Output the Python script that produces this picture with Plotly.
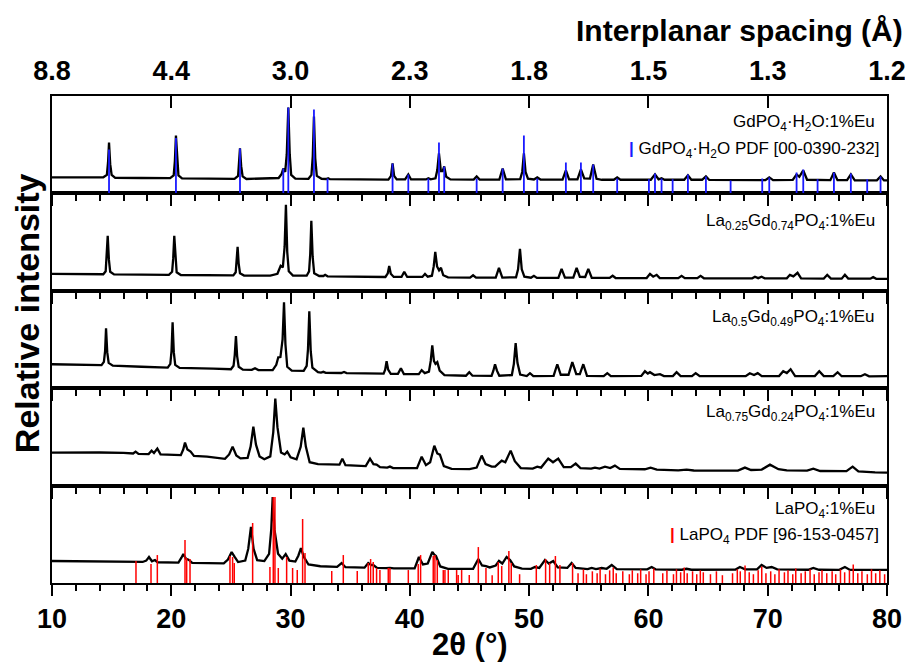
import plotly.graph_objects as go

# ---------------- data ----------------
two_theta_ticks = [10, 20, 30, 40, 50, 60, 70, 80]
d_spacing_labels = ["8.8", "4.4", "3.0", "2.3", "1.8", "1.5", "1.3", "1.2"]

# Panel 1: GdPO4·H2O:1%Eu
p1_x = [10.0, 12.0, 14.3, 14.6, 14.7, 14.78, 14.88, 15.0, 15.3, 17.5, 19.9, 20.2, 20.3, 20.39, 20.49, 20.6, 20.9, 23.5, 25.3, 25.6, 25.68, 25.76, 25.86, 25.98, 26.3, 28.0, 29.0, 29.25, 29.39, 29.55, 29.68, 29.81, 29.93, 30.05, 30.4, 31.5, 31.75, 31.86, 31.96, 32.07, 32.2, 32.6, 33.0, 33.15, 33.3, 38.2, 38.42, 38.55, 38.68, 38.9, 39.6, 39.87, 40.1, 41.35, 41.55, 41.75, 42.15, 42.3, 42.44, 42.6, 42.75, 42.88, 43.05, 43.4, 45.35, 45.6, 45.85, 47.5, 47.78, 48.05, 49.25, 49.42, 49.56, 49.7, 49.9, 50.4, 50.68, 50.95, 52.8, 53.08, 53.35, 54.05, 54.34, 54.62, 55.1, 55.37, 55.65, 56.1, 57.1, 57.38, 57.65, 60.2, 60.55, 60.85, 61.1, 61.35, 63.0, 63.31, 63.6, 64.5, 64.82, 65.1, 69.8, 70.13, 70.45, 72.1, 72.42, 72.65, 72.98, 73.3, 75.25, 75.55, 75.85, 76.65, 76.97, 77.3, 79.15, 79.46, 79.75, 80.0]
p1_y = [16.4, 16.8, 16.6, 19, 32, 52.3, 30, 19, 16.0, 15.8, 15.6, 18.5, 33, 59.5, 32, 18.5, 15.5, 15.0, 15.0, 18, 30, 46.2, 28, 17.5, 14.8, 15.0, 15.8, 20, 25.6, 22, 40, 88.2, 40, 19, 15.2, 15.0, 19, 38, 79, 36, 18, 15.0, 14.8, 15.6, 14.6, 14.2, 18, 30.8, 18, 14.3, 14.3, 19.5, 14.3, 14.3, 15.6, 14.4, 15.5, 24, 41, 23, 23, 27.7, 17, 14.3, 14.2, 17.4, 14.2, 14.2, 25.6, 14.4, 14.6, 22, 41, 22, 15.2, 14.3, 16.4, 14.2, 14.2, 23.6, 14.4, 14.5, 24.6, 15.5, 15.2, 29.7, 15, 14.0, 14, 16.4, 14, 14, 19.5, 14.5, 15.5, 14, 14, 18.5, 14, 14, 17.4, 13.8, 13.6, 16.4, 13.6, 13.8, 19.5, 17, 23.6, 14, 13.6, 21.5, 13.6, 13.6, 19.5, 13.4, 13.4, 17.4, 13.3, 13.3]

# Panel 2: La0.25Gd0.74PO4:1%Eu
p2_x = [10, 12, 14.3, 14.5, 14.58, 14.67, 14.77, 14.88, 15.2, 17.5, 19.8, 20.07, 20.16, 20.25, 20.35, 20.45, 20.8, 23.5, 25.2, 25.4, 25.48, 25.56, 25.65, 25.76, 26.1, 28.3, 28.9, 29.17, 29.35, 29.5, 29.61, 29.72, 29.85, 30.2, 31.35, 31.55, 31.65, 31.74, 31.85, 31.98, 32.4, 32.75, 32.9, 33.1, 37.95, 38.15, 38.27, 38.4, 38.65, 39.3, 39.53, 39.78, 41.05, 41.27, 41.5, 41.85, 42.0, 42.13, 42.28, 42.45, 42.61, 42.8, 43.2, 45.05, 45.3, 45.55, 47.2, 47.47, 47.75, 48.9, 49.07, 49.23, 49.38, 49.6, 50.15, 50.4, 50.65, 52.45, 52.72, 53.0, 53.7, 53.98, 54.25, 54.7, 54.96, 55.25, 56.75, 57.0, 57.25, 59.85, 60.13, 60.4, 60.69, 60.95, 62.5, 62.78, 63.05, 64.1, 64.37, 64.65, 68.7, 68.93, 69.2, 69.49, 69.75, 71.6, 71.86, 72.15, 72.5, 72.8, 74.7, 74.99, 75.3, 76.2, 76.47, 76.75, 78.6, 78.84, 79.1, 80]
p2_y = [17.4, 17.2, 17.0, 20, 33, 56.4, 32, 19.5, 16.8, 16.5, 16.4, 19.5, 33, 56.4, 32, 19, 16.2, 15.9, 15.8, 19, 29, 45.1, 28, 18, 15.6, 15.6, 17.5, 25.6, 24, 45, 88.2, 40, 20, 15.6, 15.5, 20, 38, 71.8, 35, 18, 15.2, 15.2, 16.4, 14.9, 14.2, 18, 25.6, 17.5, 14.2, 14.2, 19.5, 14.2, 14.2, 17.4, 14.5, 15.5, 25, 40, 25, 21, 23.6, 16, 13.8, 13.5, 15.9, 13.5, 13.5, 23.6, 13.6, 13.8, 22, 43.1, 22, 14.5, 13.4, 15.4, 13.3, 13.3, 22.6, 13.6, 13.6, 23.6, 14.4, 14.2, 22.6, 13.3, 13.2, 15.4, 13.1, 13.1, 17.4, 14.5, 16.4, 13.1, 13, 15.4, 13, 13, 15.4, 12.9, 12.8, 14.4, 13, 14.4, 12.8, 12.8, 16.4, 14.8, 18.5, 12.8, 12.6, 16.4, 12.6, 12.5, 16.4, 12.5, 12.4, 14.0, 12.3, 12.3]

# Panel 3: La0.5Gd0.49PO4:1%Eu
p3_x = [10, 12, 14.15, 14.35, 14.45, 14.53, 14.63, 14.75, 15.1, 17.5, 19.7, 19.92, 20.02, 20.11, 20.21, 20.33, 20.7, 23.5, 25.0, 25.22, 25.32, 25.42, 25.52, 25.65, 26.0, 26.75, 27.02, 27.3, 28.5, 28.8, 28.97, 29.15, 29.33, 29.45, 29.57, 29.72, 30.1, 31.1, 31.35, 31.46, 31.57, 31.69, 31.83, 32.3, 32.55, 32.75, 32.95, 34.25, 34.48, 34.7, 36.65, 36.88, 37.1, 37.8, 37.93, 38.05, 38.18, 38.4, 39.0, 39.25, 39.5, 40.75, 40.99, 41.25, 41.6, 41.75, 41.88, 42.02, 42.15, 42.3, 42.5, 42.9, 44.7, 44.98, 45.25, 46.85, 47.0, 47.14, 47.3, 47.5, 48.55, 48.72, 48.87, 49.02, 49.25, 49.8, 50.07, 50.35, 52.05, 52.36, 52.65, 53.3, 53.62, 53.95, 54.25, 54.54, 54.85, 56.25, 56.55, 56.85, 59.4, 59.71, 59.95, 60.13, 60.5, 60.97, 61.3, 62.05, 62.36, 62.7, 63.65, 63.96, 64.3, 68.15, 68.5, 68.85, 69.16, 69.5, 70.95, 71.3, 71.6, 71.92, 72.3, 73.95, 74.32, 74.7, 75.5, 75.86, 76.2, 77.8, 78.15, 78.5, 80]
p3_y = [24.6, 24.2, 23.6, 27, 38, 61.6, 37, 26, 23.2, 22, 21.2, 25, 38, 67.7, 37, 24, 20.8, 20, 19.5, 23, 34, 53.4, 33, 22, 19, 18.8, 20.5, 18.6, 18.6, 24, 31.8, 32, 50, 88.2, 45, 22, 18, 17.8, 23, 40, 79, 38, 21, 16.5, 16.0, 16.8, 15.8, 15.6, 16.6, 15.5, 15.2, 15.6, 15, 15, 19, 27.7, 19, 14.8, 14.8, 20.5, 14.6, 14.5, 18.5, 15.5, 17, 28, 44.1, 28, 25, 26.7, 18, 13.5, 12.8, 16.4, 12.8, 12.6, 18, 24.6, 18, 12.8, 13.5, 25, 46.2, 26, 14, 12.5, 15.4, 12.4, 12.6, 24.6, 13.8, 13.8, 26.7, 14.5, 14.5, 24.6, 12.6, 12.4, 15.4, 12.4, 12.6, 17.4, 15, 16.4, 13.5, 14.4, 12.4, 12.5, 16.4, 12.4, 12.4, 15.4, 12.3, 12.3, 15.4, 13.5, 15.4, 12.3, 12.4, 17.4, 15.5, 19.5, 12.5, 12.4, 17.4, 12.4, 12.4, 16.4, 12.3, 12.3, 14.4, 12.2, 12.3]

# Panel 4: La0.75Gd0.24PO4:1%Eu
p4_x = [10, 12, 14, 16.0, 16.8, 17.01, 17.25, 18.1, 18.35, 18.55, 18.83, 19.1, 19.6, 20.8, 21.0, 21.15, 21.35, 21.62, 21.9, 23.0, 24.5, 24.85, 25.14, 25.45, 25.8, 26.4, 26.65, 26.88, 27.1, 27.4, 27.8, 28.3, 28.55, 28.72, 28.9, 29.2, 29.5, 29.72, 30.0, 30.5, 30.85, 31.07, 31.28, 31.6, 32.3, 33.5, 34.1, 34.34, 34.6, 36.3, 36.66, 36.95, 37.21, 37.5, 38.1, 38.33, 38.6, 40.6, 40.99, 41.35, 41.7, 42.05, 42.3, 42.52, 42.85, 43.5, 45.0, 45.6, 46.02, 46.35, 46.86, 47.15, 47.7, 48.0, 48.45, 48.8, 49.3, 50.3, 50.68, 51.0, 51.6, 52.0, 52.44, 52.9, 53.5, 53.9, 54.3, 55.2, 55.52, 55.9, 56.36, 56.8, 57.19, 57.6, 59.7, 60.18, 60.7, 62.5, 63.2, 63.8, 67.5, 68.09, 68.6, 69.5, 70.19, 70.9, 71.6, 73.3, 73.82, 74.4, 76.6, 77.12, 77.6, 79, 80]
p4_y = [33.9, 34.2, 34.0, 33.6, 33.0, 34.9, 32.6, 32.4, 35.9, 33.5, 38, 32, 31.8, 31.3, 37, 44.1, 37, 34.9, 30.5, 29.7, 27.5, 32, 40, 31, 28, 28.5, 40, 60.5, 42, 30, 27, 30, 55, 89.3, 60, 34, 32, 34.9, 29, 27, 40, 59.5, 40, 24, 22, 21.3, 21.5, 27.7, 21.0, 20, 27.7, 22, 21.5, 19, 18.5, 19.5, 18, 18, 29.7, 21, 24, 41, 33, 31.8, 20, 17.2, 17, 18.5, 30.8, 22, 19.5, 19.5, 25.6, 24, 35.9, 25, 18, 17.5, 19.5, 18.5, 27.7, 24, 27.7, 19, 19, 22.6, 18, 17.5, 18.5, 17.5, 19.5, 18, 20.5, 17.2, 16.8, 18.5, 16.5, 15.6, 16.4, 15.5, 15.4, 18.5, 16.0, 16.5, 21.5, 16.8, 15.6, 15.4, 17.4, 15.0, 14.8, 19.5, 14.6, 13.6, 13.3]

# Panel 5: LaPO4:1%Eu
p5_x = [10, 13, 16, 17.6, 17.9, 18.13, 18.38, 18.63, 18.85, 20.6, 20.85, 21.01, 21.22, 21.48, 21.75, 24.4, 24.75, 25.06, 25.3, 25.6, 26.2, 26.45, 26.68, 26.9, 27.2, 27.8, 28.2, 28.38, 28.5, 28.65, 28.95, 29.3, 29.59, 29.9, 30.4, 30.65, 30.87, 31.1, 31.5, 32.5, 33.9, 34.28, 34.6, 36.2, 36.51, 36.75, 36.93, 37.25, 38.0, 38.33, 38.65, 40.4, 40.76, 41.1, 41.5, 41.88, 42.05, 42.19, 42.55, 43.2, 45.3, 45.74, 46.05, 46.38, 46.7, 47.2, 47.47, 47.75, 48.11, 48.4, 48.75, 49.4, 50.15, 50.48, 50.85, 51.33, 51.65, 52.02, 52.4, 53.2, 53.56, 53.9, 54.9, 55.24, 55.6, 56.08, 56.5, 56.92, 57.35, 59.9, 60.27, 60.6, 62.8, 63.2, 63.6, 67.3, 67.67, 68.1, 69.1, 69.49, 69.9, 70.33, 70.8, 73.4, 73.82, 74.3, 76.0, 76.47, 76.9, 80]
p5_y = [22.6, 22.4, 22.0, 21.6, 23, 26.7, 22.3, 23.6, 21.3, 21.0, 26, 29.7, 25, 23.6, 20.6, 20.2, 24, 31.8, 27, 21.5, 23, 35, 57.5, 35, 23.5, 22.5, 30, 55, 88.2, 55, 30, 25, 29.7, 23, 22, 28, 35.9, 27, 19, 17.2, 16.5, 20.5, 16.2, 15.8, 20.5, 18.5, 18.5, 15.6, 15.2, 15.6, 15, 15, 26.7, 19, 20, 31.8, 29, 27.7, 17, 14.6, 14.6, 24.6, 18, 17.4, 16, 18, 22.6, 20, 26.7, 23.6, 17, 14.8, 14.6, 16.4, 15.5, 23.6, 20, 22.6, 16, 15.5, 20.5, 15.4, 14.2, 15.4, 14.2, 15.4, 14.6, 18.5, 14.2, 14, 16.4, 14, 13.6, 14.6, 13.6, 13.8, 16.4, 14, 14, 18.5, 15.5, 16.4, 14, 13.6, 15.4, 13.6, 13.5, 16.4, 13.4, 13.4]

# Reference pattern GdPO4·H2O PDF [00-0390-232]
gd_ref_pos = [14.78, 20.39, 25.76, 29.39, 29.81, 31.96, 33.1, 38.55, 39.87, 41.55, 42.44, 42.88, 45.6, 47.78, 49.56, 50.68, 53.08, 54.34, 55.37, 57.38, 60.04, 60.55, 61.1, 62.03, 63.31, 64.82, 66.89, 69.54, 70.13, 72.42, 72.98, 74.18, 75.55, 76.97, 78.34, 79.46]
gd_ref_int = [45, 57, 46, 25.6, 88.2, 86.2, 15.4, 30.8, 19.5, 15.4, 52.3, 27.7, 15.4, 25.6, 59.5, 15.4, 31.8, 31.8, 29.7, 15.4, 14.4, 20.5, 15.4, 14.4, 19.5, 17.4, 13.3, 15.4, 16.4, 21.5, 24.6, 14.4, 21.5, 20.5, 14.4, 17.4]

# Reference pattern LaPO4 PDF [96-153-0457]
la_ref_pos = [17.04, 18.30, 18.83, 21.15, 21.29, 21.57, 24.92, 25.14, 25.28, 26.82, 28.27, 28.55, 28.69, 28.97, 29.67, 30.17, 30.56, 31.01, 31.21, 33.45, 34.42, 35.59, 36.51, 36.71, 36.93, 37.21, 37.49, 38.19, 38.33, 39.87, 40.70, 40.90, 41.96, 42.10, 42.30, 42.80, 42.94, 43.22, 43.92, 44.05, 44.34, 44.98, 45.74, 46.38, 46.90, 47.41, 47.70, 48.30, 48.50, 49.20, 50.60, 51.38, 51.72, 52.20, 52.58, 53.64, 54.10, 54.55, 54.80, 55.30, 55.70, 55.95, 56.40, 56.75, 57.05, 57.30, 57.85, 58.40, 58.65, 59.10, 59.35, 59.80, 60.05, 60.45, 61.20, 61.55, 62.10, 62.35, 62.70, 63.00, 63.25, 63.70, 64.05, 64.35, 64.60, 65.20, 65.70, 66.20, 67.05, 67.45, 67.70, 68.10, 68.45, 68.80, 69.20, 69.50, 69.85, 70.25, 70.60, 70.95, 71.40, 71.70, 72.10, 72.35, 72.80, 73.15, 73.55, 73.90, 74.30, 74.55, 74.95, 75.40, 75.70, 76.10, 76.45, 76.85, 77.17, 77.55, 77.90, 78.35, 78.70, 79.05, 79.40, 79.80]
la_ref_int = [22.6, 19.5, 28.7, 44.1, 25.6, 24.6, 27.7, 26.7, 20.5, 61.6, 16.4, 88.2, 88.2, 15.4, 26.7, 15.4, 13.3, 65.7, 30.8, 12.3, 28.7, 12.3, 20.5, 24.6, 21.5, 15.4, 13.3, 15.4, 15.4, 13.3, 19.5, 28.7, 27.7, 28.7, 23.6, 13.3, 13.3, 13.3, 13.3, 8.2, 13.3, 8.2, 36.9, 15.4, 8.0, 21.5, 17.4, 32.8, 20.5, 9.0, 18.5, 24.6, 20.5, 27.7, 18.5, 20.5, 10, 14, 9, 12, 10, 15, 9, 13, 16, 10, 12, 9, 13, 10, 14, 9, 12, 15, 10, 13, 9, 14, 11, 16, 10, 12, 9, 13, 11, 9, 12, 8, 10, 14, 12, 18, 11, 9, 13, 17, 10, 12, 9, 14, 11, 13, 9, 15, 10, 12, 14, 9, 11, 13, 10, 12, 9, 14, 11, 13, 19, 10, 12, 9, 14, 10, 13, 9]

panel_labels = [
    "LaPO<sub>4</sub>:1%Eu",
    "La<sub>0.75</sub>Gd<sub>0.24</sub>PO<sub>4</sub>:1%Eu",
    "La<sub>0.5</sub>Gd<sub>0.49</sub>PO<sub>4</sub>:1%Eu",
    "La<sub>0.25</sub>Gd<sub>0.74</sub>PO<sub>4</sub>:1%Eu",
    "GdPO<sub>4</sub>·H<sub>2</sub>O:1%Eu",
]

# ---------------- figure ----------------
# the page has an 8 px body margin, so the figure is 8 px smaller each way
W, H = 905, 655
L, R, T, B = 44, 26, 88, 80
fig = go.Figure()

curves = [(p5_x, p5_y), (p4_x, p4_y), (p3_x, p3_y), (p2_x, p2_y), (p1_x, p1_y)]
for i, (cx, cy) in enumerate(curves):
    n = i + 1
    fig.add_trace(go.Scatter(x=cx, y=cy, mode="lines",
                             line=dict(color="black", width=2.3),
                             xaxis="x" if n == 1 else f"x{n}",
                             yaxis="y" if n == 1 else f"y{n}",
                             showlegend=False, hoverinfo="skip"))


def sticks(pos, inten):
    xs, ys = [], []
    for p, h in zip(pos, inten):
        xs += [p, p, None]
        ys += [0, h, None]
    return xs, ys


sx, sy = sticks(gd_ref_pos, gd_ref_int)
fig.add_trace(go.Scatter(x=sx, y=sy, mode="lines", line=dict(color="#1a1aff", width=1.8),
                         xaxis="x5", yaxis="y5", showlegend=False, hoverinfo="skip"))
sx, sy = sticks(la_ref_pos, la_ref_int)
fig.add_trace(go.Scatter(x=sx, y=sy, mode="lines", line=dict(color="#ff0000", width=1.5),
                         xaxis="x", yaxis="y", showlegend=False, hoverinfo="skip"))

BOLD = "Liberation Sans, Arial, sans-serif"
tickfont = dict(family=BOLD, size=27, color="black", weight="bold")
layout = dict(width=W, height=H, margin=dict(l=L, r=R, t=T, b=B, autoexpand=False),
              paper_bgcolor="white", plot_bgcolor="white", showlegend=False)

for i in range(5):
    n = i + 1
    xn = "xaxis" if n == 1 else f"xaxis{n}"
    yn = "yaxis" if n == 1 else f"yaxis{n}"
    ya = "y" if n == 1 else f"y{n}"
    layout[xn] = dict(range=[10, 80], anchor=ya, showline=True, mirror=True,
                      linecolor="black", linewidth=2, showgrid=False, zeroline=False,
                      ticks="outside", ticklen=11, tickwidth=2, tickcolor="black",
                      tickvals=two_theta_ticks, showticklabels=(n == 1),
                      tickfont=tickfont,
                      minor=dict(ticks="outside", ticklen=6, tickwidth=1.5, tickcolor="black",
                                 dtick=2, tick0=10, showgrid=False))
    if n > 1:
        layout[xn]["matches"] = "x"
    layout[yn] = dict(domain=[i * 0.2, (i + 1) * 0.2], range=[0, 100], showline=True,
                      mirror=True, linecolor="black", linewidth=2, showgrid=False,
                      zeroline=False, ticks="", showticklabels=False, fixedrange=True)

layout["xaxis6"] = dict(overlaying="x5", side="top", anchor="y5", range=[10, 80],
                        tickvals=two_theta_ticks, ticktext=d_spacing_labels,
                        ticks="inside", ticklen=12, tickwidth=2, tickcolor="black",
                        ticklabelstandoff=10,
                        showline=False, showgrid=False, zeroline=False, tickfont=tickfont)
fig.update_layout(**layout)
fig.add_trace(go.Scatter(x=[10, 80], y=[-10, -10], mode="markers", marker=dict(opacity=0),
                         xaxis="x6", yaxis="y5", showlegend=False, hoverinfo="skip"))

# axis titles
fig.add_annotation(text="2θ (°)", xref="paper", yref="paper", x=0.5, y=-0.127,
                   xanchor="center", yanchor="middle", showarrow=False,
                   font=dict(family=BOLD, size=31, color="black", weight="bold"))
fig.add_annotation(text="Interplanar spacing (Å)", xref="paper", yref="paper",
                   x=1.0216, y=1.1355, xanchor="right", yanchor="middle", showarrow=False,
                   font=dict(family=BOLD, size=30, color="black", weight="bold"))
fig.add_annotation(text="Relative intensity", xref="paper", yref="paper",
                   x=-0.030, y=0.554, xanchor="center", yanchor="middle", textangle=-90,
                   showarrow=False,
                   font=dict(family=BOLD, size=34, color="black", weight="bold"))

# panel labels
lab_font = dict(family="Liberation Sans, Arial, sans-serif", size=17, color="black")
label_y = [0.749, 0.749, 0.719, 0.708, 0.723]
for i, txt in enumerate(panel_labels):
    n = i + 1
    fig.add_annotation(text=txt, xref="paper", yref=("y" if n == 1 else f"y{n}") + " domain",
                       x=0.988, y=label_y[i], xanchor="right", yanchor="middle",
                       showarrow=False, font=lab_font)
fig.add_annotation(text="<span style='color:#1a1aff'><b>|</b></span> GdPO<sub>4</sub>·H<sub>2</sub>O PDF [00-0390-232]",
                   xref="paper", yref="y5 domain", x=0.993, y=0.441, xanchor="right",
                   yanchor="middle", showarrow=False, font=lab_font)
fig.add_annotation(text="<span style='color:#ff0000'><b>|</b></span> LaPO<sub>4</sub> PDF [96-153-0457]",
                   xref="paper", yref="y domain", x=0.993, y=0.483, xanchor="right",
                   yanchor="middle", showarrow=False, font=lab_font)

fig.write_html("out.html")
